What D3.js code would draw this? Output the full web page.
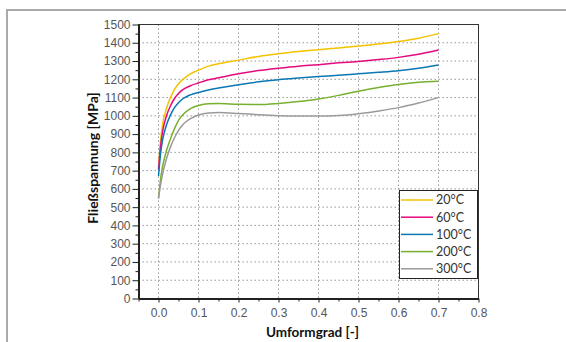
<!DOCTYPE html>
<html lang="de">
<head>
<meta charset="UTF-8">
<title>Fließkurven</title>
<script src="https://d3js.org/d3.v7.min.js"></script>
<style>
  body { margin: 0; background: #fff; }
  svg { display: block; font-family: Lato, "Noto Sans", sans-serif; }
  .grid line { stroke: #999; stroke-width: 1; stroke-dasharray: 1.5,2.5; }
  .tick text { fill: #555; font-size: 12px; }
  .axis path, .axis line { stroke: #222; }
  .title { font-weight: bold; font-size: 13.5px; fill: #111; }
  .legend text { fill: #333; font-size: 12.5px; }
</style>
</head>
<body>
<svg width="566" height="342"></svg>
<script>
  // Umformgrad (x) and Fließspannung per temperature
  const strain = [0, 0.005, 0.01, 0.02, 0.03, 0.04, 0.05, 0.06, 0.08, 0.1, 0.125, 0.15,
                  0.2, 0.25, 0.3, 0.35, 0.4, 0.45, 0.5, 0.55, 0.6, 0.65, 0.7];
  const temps = ["20°C", "60°C", "100°C", "200°C", "300°C"];
  const colors = ["#f4c300", "#e5097f", "#0a78b4", "#77b02e", "#9a9a9a"];
  const s20  = [715, 860, 950, 1040, 1100, 1145, 1175, 1198, 1230, 1250, 1272, 1285,
                1305, 1325, 1340, 1352, 1362, 1372, 1382, 1393, 1407, 1425, 1450];
  const s60  = [705, 830, 910, 1000, 1055, 1095, 1122, 1142, 1165, 1180, 1197, 1208,
                1230, 1248, 1261, 1272, 1280, 1290, 1298, 1308, 1320, 1337, 1360];
  const s100 = [670, 790, 865, 950, 1005, 1045, 1072, 1092, 1115, 1128, 1142, 1152,
                1170, 1186, 1198, 1207, 1215, 1222, 1230, 1238, 1247, 1260, 1278];
  const s200 = [548, 650, 720, 810, 875, 930, 975, 1005, 1040, 1057, 1066, 1067,
                1063, 1062, 1068, 1078, 1092, 1112, 1135, 1155, 1172, 1184, 1190];
  const s300 = [548, 620, 680, 765, 830, 880, 920, 950, 985, 1005, 1016, 1018,
                1013, 1006, 1001, 999, 999, 1002, 1012, 1027, 1045, 1070, 1100];
  const series = [s20, s60, s100, s200, s300];

  const xTicks = [0, 0.1, 0.2, 0.3, 0.4, 0.5, 0.6, 0.7, 0.8];
  const yTicks = d3.range(0, 1501, 100);

  const svg = d3.select("svg");
  const margin = {left: 138.5, right: 478.5, top: 24.5, bottom: 298.5};

  // outer frame (only top and left edges visible)
  svg.append("path")
    .attr("d", "M7,342V10H566")
    .attr("fill", "none")
    .attr("stroke", "#aaa")
    .attr("stroke-width", 2);

  const x = d3.scaleLinear().domain([-0.05, 0.8]).range([margin.left, margin.right]);
  const y = d3.scaleLinear().domain([0, 1500]).range([margin.bottom, margin.top]);

  // grid
  const grid = svg.append("g").attr("class", "grid");
  grid.selectAll(".vx").data(xTicks.slice(0, -1)).enter().append("line")
    .attr("x1", d => x(d)).attr("x2", d => x(d))
    .attr("y1", margin.top).attr("y2", margin.bottom);
  grid.selectAll(".hy").data(yTicks.slice(1)).enter().append("line")
    .attr("x1", margin.left).attr("x2", margin.right)
    .attr("y1", d => y(d)).attr("y2", d => y(d));

  // plot border
  svg.append("rect")
    .attr("x", margin.left).attr("y", margin.top)
    .attr("width", margin.right - margin.left)
    .attr("height", margin.bottom - margin.top)
    .attr("fill", "none").attr("stroke", "#333").attr("stroke-width", 1);

  // x axis, minor then major
  svg.append("g").attr("class", "axis")
    .attr("transform", `translate(0,${margin.bottom})`)
    .call(d3.axisBottom(x).tickValues(d3.range(-0.05, 0.8, 0.1)).tickSize(3).tickFormat(""))
    .call(g => g.select(".domain").remove());
  svg.append("g").attr("class", "axis")
    .attr("transform", `translate(0,${margin.bottom})`)
    .call(d3.axisBottom(x).tickValues(xTicks).tickSize(4).tickSizeOuter(0).tickPadding(6).tickFormat(d3.format(".1f")))
    .call(g => g.select(".domain").attr("stroke-width", 2));

  // y axis, minor then major
  svg.append("g").attr("class", "axis")
    .attr("transform", `translate(${margin.left},0)`)
    .call(d3.axisLeft(y).tickValues(d3.range(50, 1500, 100)).tickSize(3).tickFormat(""))
    .call(g => g.select(".domain").remove());
  svg.append("g").attr("class", "axis")
    .attr("transform", `translate(${margin.left},0)`)
    .call(d3.axisLeft(y).tickValues(yTicks).tickSize(6).tickSizeOuter(0).tickPadding(2).tickFormat(d3.format("d")))
    .call(g => g.select(".domain").attr("stroke-width", 2));

  // curves
  const line = d3.line()
    .x((d, i) => x(strain[i]))
    .y(d => y(d))
    .curve(d3.curveMonotoneX);

  svg.append("g").selectAll("path").data(series).enter().append("path")
    .attr("d", line)
    .attr("fill", "none")
    .attr("stroke", (d, i) => colors[i])
    .attr("stroke-width", 1.5);

  // axis titles
  svg.append("text").attr("class", "title")
    .attr("x", (margin.left + margin.right) / 2 + 4)
    .attr("y", 337)
    .attr("text-anchor", "middle")
    .text("Umformgrad [-]");
  svg.append("text").attr("class", "title")
    .attr("transform", "translate(98,158) rotate(-90)")
    .attr("text-anchor", "middle")
    .style("font-size", "14px")
    .text("Fließspannung [MPa]");

  // legend
  const legend = svg.append("g").attr("class", "legend");
  legend.append("rect")
    .attr("x", 399.5).attr("y", 190.5).attr("width", 78).attr("height", 88)
    .attr("fill", "#fff").attr("stroke", "#222").attr("stroke-width", 1);
  const item = legend.selectAll(".item").data(temps).enter().append("g")
    .attr("transform", (d, i) => `translate(0,${200 + i * 17.2})`);
  item.append("line")
    .attr("x1", 401).attr("x2", 433)
    .attr("stroke", (d, i) => colors[i]).attr("stroke-width", 1.5);
  item.append("text")
    .attr("x", 436).attr("dy", "0.35em")
    .text(d => d);
</script>
</body>
</html>
